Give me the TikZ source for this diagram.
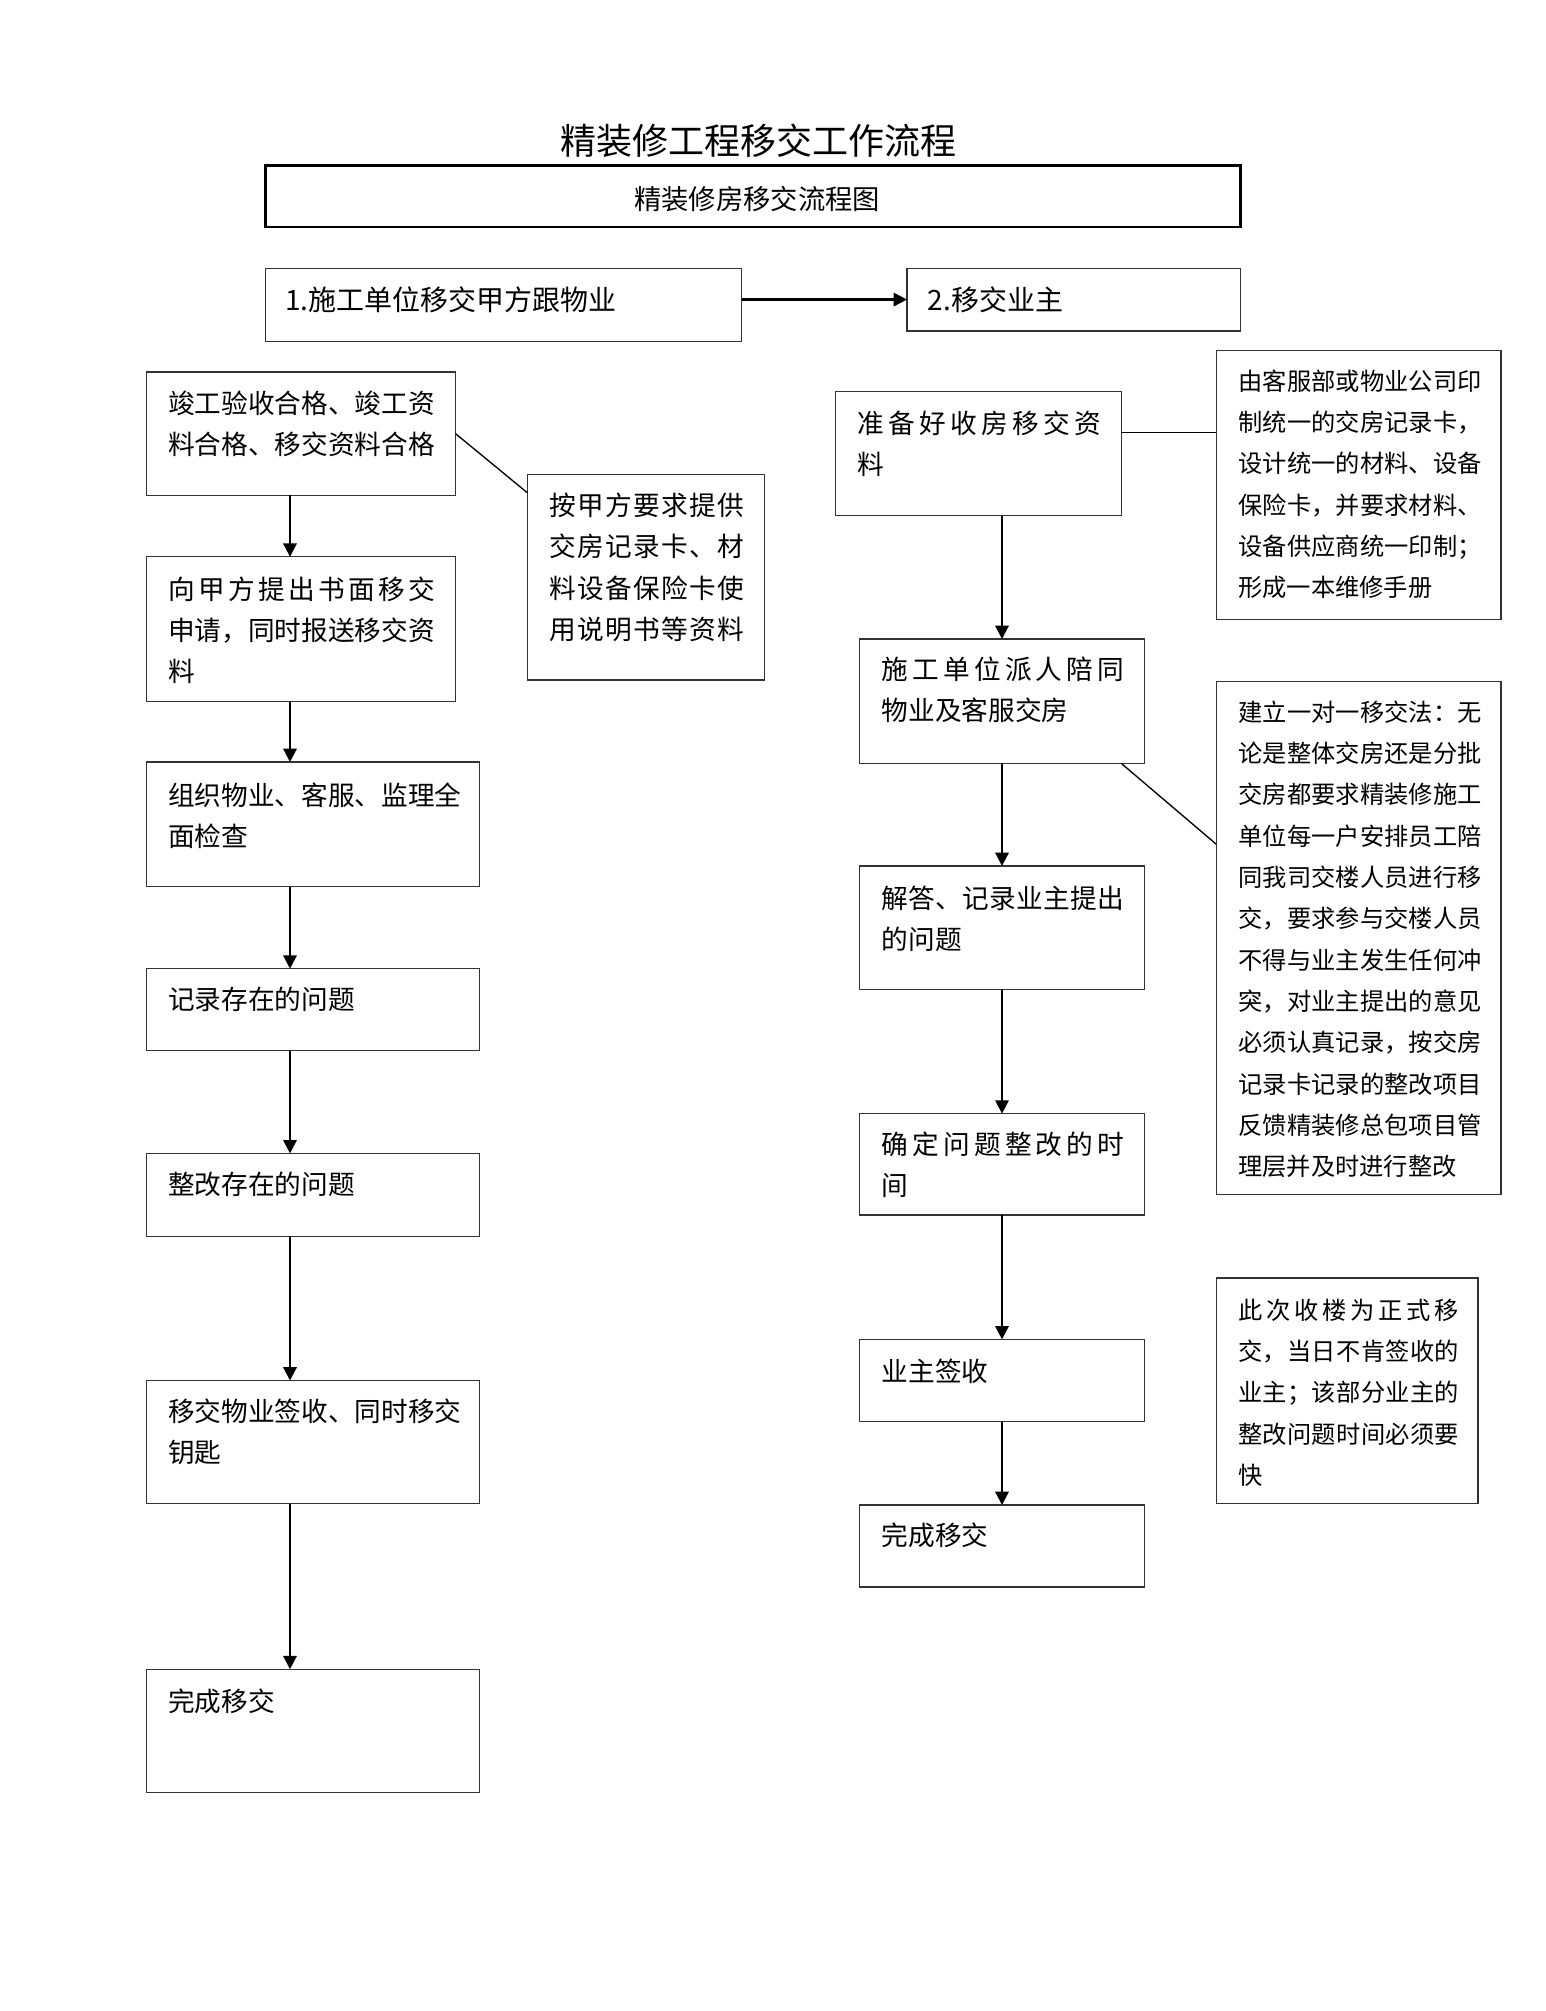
\documentclass[tikz,border=0pt]{standalone}
\usepackage{fontspec}
\setmainfont{Noto Sans CJK SC}
\usetikzlibrary{arrows.meta}
\def\sploop#1#2\spend{#1\if\relax\detokenize{#2}\relax\else\hskip 0pt plus 1fil\relax\sploop#2\spend\fi}
\newcommand\jl[2]{\makebox[#1pt][s]{\sploop#2\spend}}
\newcommand\mytab[1]{\begin{tabular}[t]{@{}l@{}}#1\end{tabular}}
\newcommand\bx[5]{\node[boxst, minimum width={0.75pt*(#4-#2)}, minimum height={0.75pt*(#5-#3)}] (#1) at (#2,#3) {};}
\tikzset{
  boxst/.style={draw=black!80, line width=0.9pt, inner sep=0pt, outer sep=0pt, anchor=north west},
  txt/.style={anchor=base west, inner sep=0pt, font=\fontsize{20}{30.75}\selectfont},
  stxt/.style={anchor=base west, inner sep=0pt, font=\fontsize{18.2}{31}\selectfont},
  arr/.style={line width=1.6pt, -{Triangle[width=10pt,length=10pt]}},
  ln/.style={line width=1pt},
}
\begin{document}
\begin{tikzpicture}[x=0.75pt,y=-0.75pt]
\fill[white] (0,0) rectangle (1546,2011);
\useasboundingbox (0,0) rectangle (1546,2011);
% title
\node[anchor=base, inner sep=0pt, font=\fontsize{27}{32}\selectfont] (title) at (758,154.7) {精装修工程移交工作流程};
% top box
\node[boxst, draw=black, line width=1.8pt, minimum width={0.75pt*975}, minimum height={0.75pt*61.6}] (top) at (265.6,165.5) {};
\node[anchor=base, inner sep=0pt, font=\fontsize{20.5}{30}\selectfont] (topt) at (757,209) {精装修房移交流程图};
% stage boxes
\bx{b1}{265.6}{268.1}{741.6}{341.3}
\node[txt, font=\fontsize{21}{30}\selectfont] (b1t) at (284.8,310.5) {1.施工单位移交甲方跟物业};
\bx{b2}{907}{268.1}{1240.6}{331}
\node[txt, font=\fontsize{21}{30}\selectfont] (b2t) at (927.6,310.5) {2.移交业主};
% left column
\bx{L1}{146.3}{372}{455.5}{495.2}
\node[txt] (L1t) at (168,413) {\mytab{\jl{200}{竣工验收合格、竣工资}\\\jl{200}{料合格、移交资料合格}}};
\bx{L2}{146.3}{556.8}{455.5}{701.8}
\node[txt] (L2t) at (168,599) {\mytab{\jl{200}{向甲方提出书面移交}\\\jl{200}{申请，同时报送移交资}\\料}};
\bx{L3}{146.3}{762}{479.8}{886.5}
\node[txt] (L3t) at (168,805.5) {\mytab{\jl{218.4}{组织物业、客服、监理全}\\面检查}};
\bx{L4}{146.3}{968.7}{479.8}{1050.8}
\node[txt] (L4t) at (168,1009.5) {记录存在的问题};
\bx{L5}{146.3}{1153.4}{479.8}{1236.8}
\node[txt] (L5t) at (168,1194.2) {整改存在的问题};
\bx{L6}{146.3}{1380.5}{479.8}{1503.7}
\node[txt] (L6t) at (168,1421.3) {\mytab{\jl{218.4}{移交物业签收、同时移交}\\钥匙}};
\bx{L7}{146.3}{1669.2}{479.8}{1792.3}
\node[txt] (L7t) at (168,1711.3) {完成移交};
% side box S1
\bx{S1}{527.3}{474.7}{764.7}{680}
\node[txt, font=\fontsize{20}{31.1}\selectfont] (S1t) at (549,515.5) {\mytab{\jl{146}{按甲方要求提供}\\\jl{146}{交房记录卡、材}\\\jl{146}{料设备保险卡使}\\\jl{146}{用说明书等资料}}};
% right column
\bx{R1}{835.2}{391.3}{1121.3}{515.8}
\node[txt] (R1t) at (857,433.4) {\mytab{\jl{182.8}{准备好收房移交资}\\料}};
\bx{R2}{859.6}{639}{1144.4}{763.4}
\node[txt] (R2t) at (881.4,679.7) {\mytab{\jl{181.9}{施工单位派人陪同}\\物业及客服交房}};
\bx{R3}{859.6}{866}{1144.4}{989.2}
\node[txt] (R3t) at (881.4,908) {\mytab{\jl{181.9}{解答、记录业主提出}\\的问题}};
\bx{R4}{859.6}{1113.6}{1144.4}{1215}
\node[txt] (R4t) at (881.4,1154.4) {\mytab{\jl{181.9}{确定问题整改的时}\\间}};
\bx{R5}{859.6}{1339.4}{1144.4}{1421.6}
\node[txt] (R5t) at (881.4,1381.5) {业主签收};
\bx{R6}{859.6}{1505}{1144.4}{1587}
\node[txt] (R6t) at (881.4,1545.8) {完成移交};
% side notes right
\bx{S2}{1216.3}{350.3}{1501}{619.7}
\node[stxt] (S2t) at (1238,390.3) {\mytab{\jl{182.8}{由客服部或物业公司印}\\\jl{182.8}{制统一的交房记录卡，}\\\jl{182.8}{设计统一的材料、设备}\\\jl{182.8}{保险卡，并要求材料、}\\\jl{182.8}{设备供应商统一印制；}\\形成一本维修手册}};
\bx{S3}{1216.3}{681.3}{1501}{1194.5}
\node[stxt] (S3t) at (1238,721.3) {\mytab{\jl{182.8}{建立一对一移交法：无}\\\jl{182.8}{论是整体交房还是分批}\\\jl{182.8}{交房都要求精装修施工}\\\jl{182.8}{单位每一户安排员工陪}\\\jl{182.8}{同我司交楼人员进行移}\\\jl{182.8}{交，要求参与交楼人员}\\\jl{182.8}{不得与业主发生任何冲}\\\jl{182.8}{突，对业主提出的意见}\\\jl{182.8}{必须认真记录，按交房}\\\jl{182.8}{记录卡记录的整改项目}\\\jl{182.8}{反馈精装修总包项目管}\\理层并及时进行整改}};
\bx{S4}{1216.3}{1277.9}{1478}{1503.7}
\node[stxt] (S4t) at (1238,1319.3) {\mytab{\jl{165.5}{此次收楼为正式移}\\\jl{165.5}{交，当日不肯签收的}\\\jl{165.5}{业主；该部分业主的}\\\jl{165.5}{整改问题时间必须要}\\快}};
% connectors
\coordinate (lx) at (290,0);
\coordinate (rx) at (1002,0);
\coordinate (hy) at (0,432.4);
\draw[arr] (b1.east |- b2.west) -- (b2.west);
\draw[arr] (L1.south -| lx) -- (L2.north -| lx);
\draw[arr] (L2.south -| lx) -- (L3.north -| lx);
\draw[arr] (L3.south -| lx) -- (L4.north -| lx);
\draw[arr] (L4.south -| lx) -- (L5.north -| lx);
\draw[arr] (L5.south -| lx) -- (L6.north -| lx);
\draw[arr] (L6.south -| lx) -- (L7.north -| lx);
\draw[arr] (R1.south -| rx) -- (R2.north -| rx);
\draw[arr] (R2.south -| rx) -- (R3.north -| rx);
\draw[arr] (R3.south -| rx) -- (R4.north -| rx);
\draw[arr] (R4.south -| rx) -- (R5.north -| rx);
\draw[arr] (R5.south -| rx) -- (R6.north -| rx);
\draw[ln] (L1.east) -- ([yshift=-13.5pt]S1.north west);
\draw[ln] (R1.east |- hy) -- (S2.west |- hy);
\draw[ln] ([xshift=-17.3pt]R2.south east) -- ([yshift=-122.2pt]S3.north west);
\end{tikzpicture}
\end{document}
